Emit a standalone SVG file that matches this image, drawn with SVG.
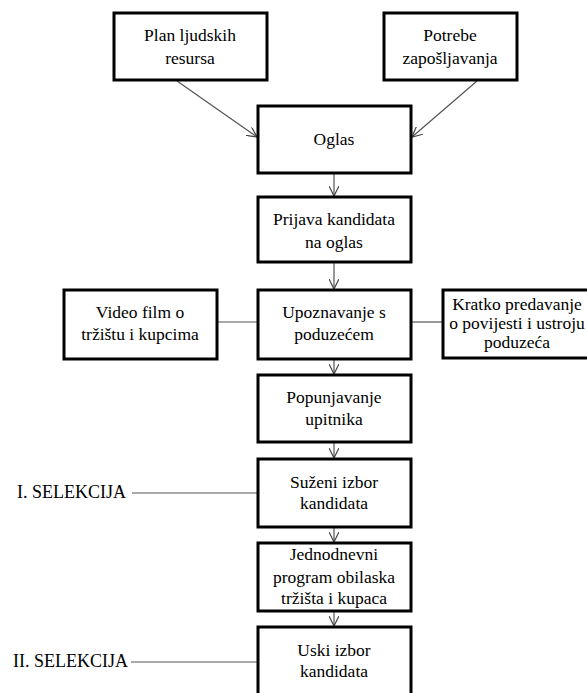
<svg xmlns="http://www.w3.org/2000/svg" width="587" height="693" viewBox="0 0 587 693">
<defs>
<marker id="arr" viewBox="0 0 10 10" refX="10" refY="5" markerWidth="10" markerHeight="10" markerUnits="userSpaceOnUse" orient="auto">
<path d="M0,0 L10,5 L0,10" fill="none" stroke="#444" stroke-width="1.2"/>
</marker>
<style>
.box{fill:#fff;stroke:#000;stroke-width:3}
.t{font-family:"Liberation Serif","Times New Roman",serif;font-size:17.5px;fill:#000;text-anchor:middle}
.l{font-family:"Liberation Serif","Times New Roman",serif;font-size:18px;fill:#000}
.c{fill:none;stroke:#555;stroke-width:1.2}
.a{fill:none;stroke:#555;stroke-width:1.2;marker-end:url(#arr)}
</style>
</defs>
<g id="connectors">
<line class="a" x1="177" y1="81" x2="257" y2="137"/>
<line class="a" x1="477" y1="81" x2="412" y2="137"/>
<line class="a" x1="334" y1="174" x2="334" y2="196"/>
<line class="a" x1="334" y1="263" x2="334" y2="289"/>
<line class="a" x1="334" y1="360" x2="334" y2="374"/>
<line class="a" x1="334" y1="443" x2="334" y2="458"/>
<line class="a" x1="334" y1="528" x2="334" y2="542"/>
<line class="a" x1="334" y1="612" x2="334" y2="626"/>
<line class="c" x1="217" y1="322" x2="258" y2="322"/>
<line class="c" x1="411" y1="322" x2="443" y2="322"/>
<line class="c" x1="132" y1="493" x2="258" y2="493"/>
<line class="c" x1="131" y1="662" x2="258" y2="662"/>
</g>
<g id="plan"><rect class="box" x="114" y="13" width="153" height="67"/><text class="t" x="190" y="41">Plan ljudskih</text><text class="t" x="190" y="64">resursa</text></g>
<g id="potrebe"><rect class="box" x="384" y="13" width="133" height="67"/><text class="t" x="450" y="41">Potrebe</text><text class="t" x="450" y="64">zapošljavanja</text></g>
<g id="oglas"><rect class="box" x="258" y="106" width="153" height="67"/><text class="t" x="334" y="145">Oglas</text></g>
<g id="prijava"><rect class="box" x="258" y="197" width="153" height="65"/><text class="t" x="334" y="225">Prijava kandidata</text><text class="t" x="334" y="248">na oglas</text></g>
<g id="upoznavanje"><rect class="box" x="258" y="290" width="153" height="69"/><text class="t" x="334" y="318">Upoznavanje s</text><text class="t" x="334" y="340">poduzećem</text></g>
<g id="video"><rect class="box" x="64" y="290" width="153" height="69"/><text class="t" x="140" y="318">Video film o</text><text class="t" x="140" y="340">tržištu i kupcima</text></g>
<g id="kratko"><rect class="box" x="443" y="290" width="160" height="68"/><text class="t" x="517" y="310">Kratko predavanje</text><text class="t" x="517" y="329">o povijesti i ustroju</text><text class="t" x="517" y="348">poduzeća</text></g>
<g id="popunjavanje"><rect class="box" x="258" y="375" width="153" height="67"/><text class="t" x="334" y="403">Popunjavanje</text><text class="t" x="334" y="425">upitnika</text></g>
<g id="suzeni"><rect class="box" x="258" y="459" width="153" height="68"/><text class="t" x="334" y="488">Suženi izbor</text><text class="t" x="334" y="509">kandidata</text></g>
<g id="jednodnevni"><rect class="box" x="258" y="543" width="153" height="68"/><text class="t" x="334" y="560">Jednodnevni</text><text class="t" x="334" y="583">program obilaska</text><text class="t" x="334" y="604">tržišta i kupaca</text></g>
<g id="uski"><rect class="box" x="258" y="627" width="153" height="70"/><text class="t" x="334" y="656">Uski izbor</text><text class="t" x="334" y="677">kandidata</text></g>
<g id="sel1"><text class="l" x="17" y="498">I. SELEKCIJA</text></g>
<g id="sel2"><text class="l" x="13" y="667">II. SELEKCIJA</text></g>
</svg>
